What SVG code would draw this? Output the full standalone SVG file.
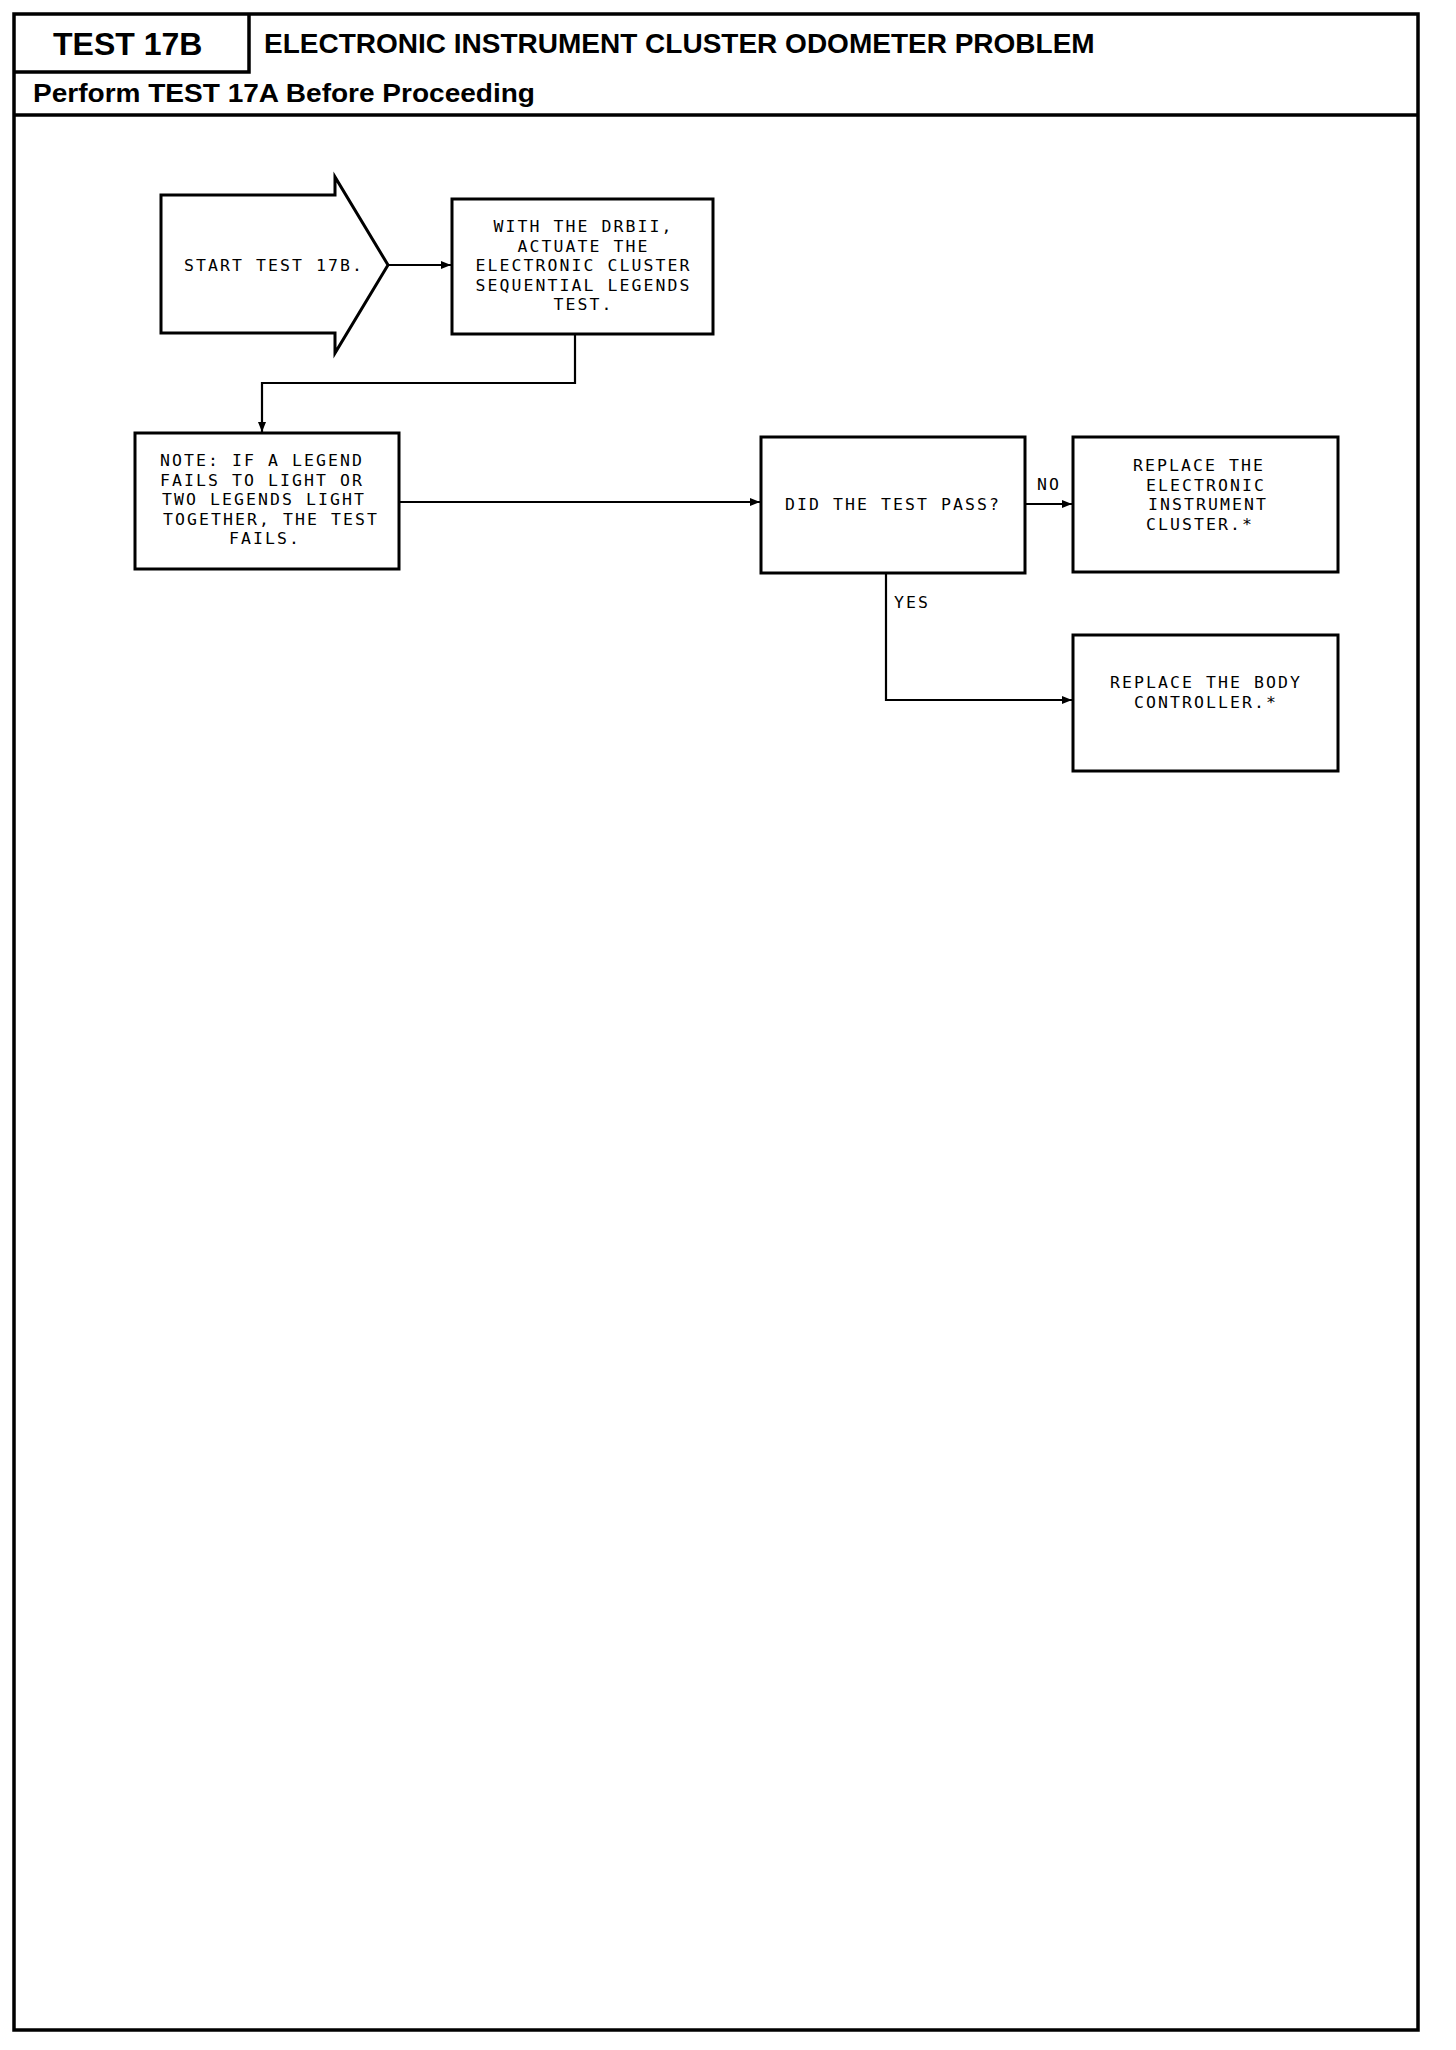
<svg xmlns="http://www.w3.org/2000/svg" width="1456" height="2050" viewBox="0 0 1456 2050">
<style>
.frame{fill:none;stroke:#000;stroke-width:3.5}
.box{fill:#fff;stroke:#000;stroke-width:3}
.conn{fill:none;stroke:#000;stroke-width:2.2}
.hdr{font-family:"Liberation Sans",Arial,sans-serif;font-weight:bold;fill:#000}
.t{font-family:"DejaVu Sans Mono","Liberation Mono",monospace;font-size:16.5px;letter-spacing:2.07px;fill:#000}
.c{text-anchor:middle}
</style>
<defs>
<marker id="arr" viewBox="0 0 10 8" refX="10" refY="4" markerWidth="10" markerHeight="8" markerUnits="userSpaceOnUse" orient="auto">
<path d="M0,0 L10,4 L0,8 z" fill="#000"/>
</marker>
</defs>
<rect width="1456" height="2050" fill="#fff"/>
<g id="header">
<rect class="frame" x="14" y="14" width="1404" height="2016"/>
<path class="frame" d="M14,72 H249 V14"/>
<path class="frame" d="M14,115 H1418"/>
<text class="hdr" x="53" y="55" font-size="32">TEST 17B</text>
<text class="hdr" x="264" y="53" font-size="28">ELECTRONIC INSTRUMENT CLUSTER ODOMETER PROBLEM</text>
<text class="hdr" x="33" y="102" font-size="25" textLength="502" lengthAdjust="spacingAndGlyphs">Perform TEST 17A Before Proceeding</text>
</g>
<g id="connectors">
<path class="conn" d="M388,265 H451" marker-end="url(#arr)"/>
<path class="conn" d="M575,334 V383 H262 V432" marker-end="url(#arr)"/>
<path class="conn" d="M399,502 H760" marker-end="url(#arr)"/>
<path class="conn" d="M1025,504 H1072" marker-end="url(#arr)"/>
<path class="conn" d="M886,573 V700 H1072" marker-end="url(#arr)"/>
<text class="t" x="1037" y="490">NO</text>
<text class="t" x="894" y="608">YES</text>
</g>
<g id="start">
<polygon class="box" points="161,195 335,195 335,177 388,265 335,353 335,333 161,333"/>
<text class="t" x="184" y="271">START TEST 17B.</text>
</g>
<g id="actuate">
<rect class="box" x="452" y="199" width="261" height="135"/>
<text class="t c"><tspan x="583.5" y="232">WITH THE DRBII,</tspan><tspan x="583.5" y="251.5">ACTUATE THE</tspan><tspan x="583.5" y="271">ELECTRONIC CLUSTER</tspan><tspan x="583.5" y="290.5">SEQUENTIAL LEGENDS</tspan><tspan x="583.5" y="310">TEST.</tspan></text>
</g>
<g id="note">
<rect class="box" x="135" y="433" width="264" height="136"/>
<text class="t"><tspan x="160" y="466">NOTE: IF A LEGEND</tspan><tspan x="160" y="485.6">FAILS TO LIGHT OR</tspan><tspan x="162" y="505.2">TWO LEGENDS LIGHT</tspan><tspan x="163" y="524.8">TOGETHER, THE TEST</tspan><tspan x="229" y="544.4">FAILS.</tspan></text>
</g>
<g id="decision">
<rect class="box" x="761" y="437" width="264" height="136"/>
<text class="t" x="785" y="510">DID THE TEST PASS?</text>
</g>
<g id="replace-cluster">
<rect class="box" x="1073" y="437" width="265" height="135"/>
<text class="t"><tspan x="1133" y="471">REPLACE THE</tspan><tspan x="1146" y="490.5">ELECTRONIC</tspan><tspan x="1148" y="510">INSTRUMENT</tspan><tspan x="1146" y="529.5">CLUSTER.*</tspan></text>
</g>
<g id="replace-body">
<rect class="box" x="1073" y="635" width="265" height="136"/>
<text class="t c"><tspan x="1206" y="688">REPLACE THE BODY</tspan><tspan x="1206" y="708">CONTROLLER.*</tspan></text>
</g>
</svg>
